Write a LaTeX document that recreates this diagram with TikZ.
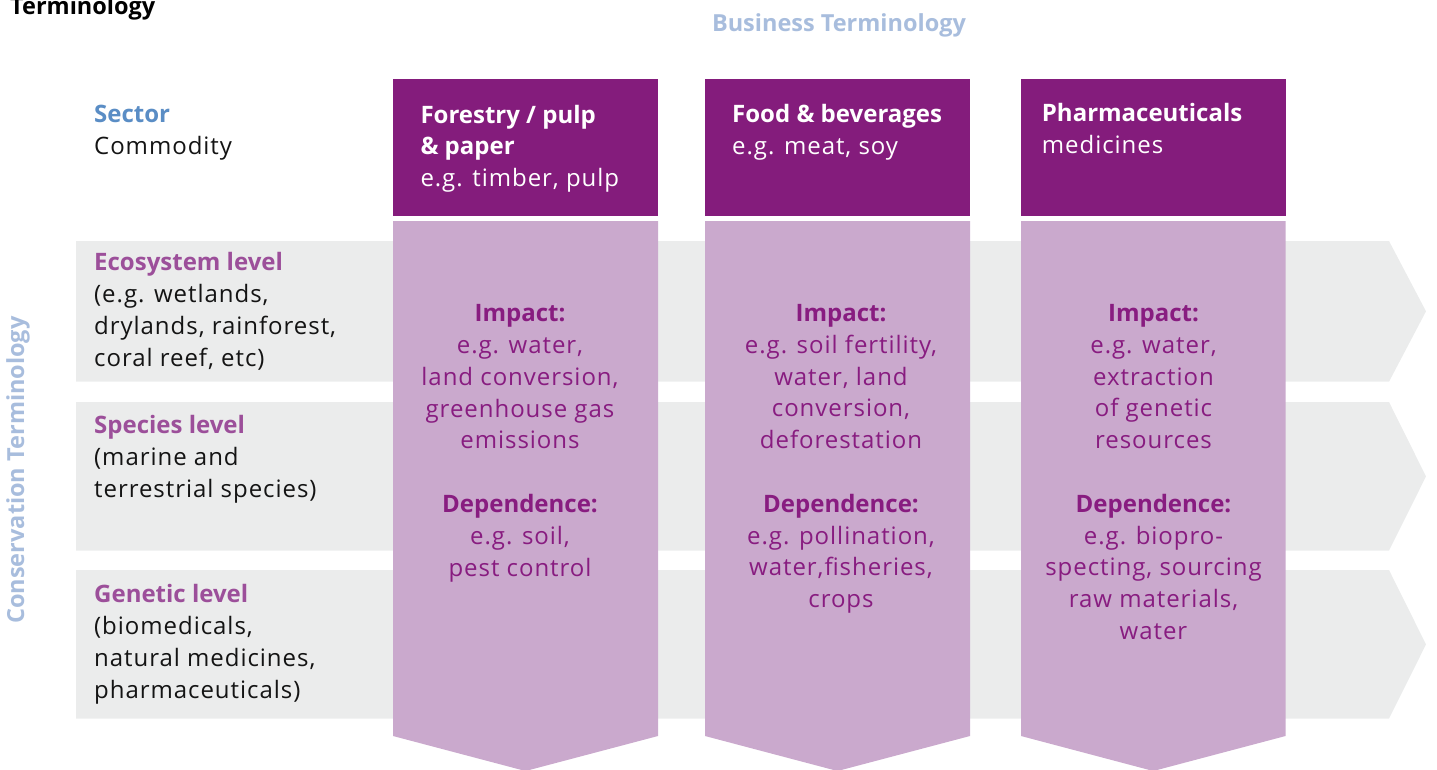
\documentclass[tikz,border=0pt]{standalone}
\usepackage{fontspec}
\setmainfont{Open Sans}[UprightFeatures={LetterSpace=4.0},BoldFeatures={LetterSpace=0}]
\definecolor{hdr}{RGB}{132,28,124}
\definecolor{colbg}{RGB}{202,169,205}
\definecolor{bandc}{RGB}{235,236,236}
\definecolor{bodytxt}{RGB}{136,28,128}
\definecolor{lvl}{RGB}{156,79,154}
\definecolor{sector}{RGB}{90,141,197}
\definecolor{ttl}{RGB}{168,189,221}
\definecolor{ink}{RGB}{20,20,20}
\tikzset{
  band/.style={fill=bandc, draw=none},
  colbody/.style={fill=colbg, draw=none},
  colhead/.style={fill=hdr, draw=none},
  bodyfont/.style={font=\fontsize{24}{31.8}\selectfont},
  lefttext/.style={bodyfont, align=left, anchor=base west, inner sep=0pt, text=ink},
  headtext/.style={bodyfont, align=left, anchor=base west, inner sep=0pt, text=white},
  coltext/.style={bodyfont, align=center, anchor=base, inner sep=0pt, text=bodytxt},
  titletext/.style={font=\fontsize{23.5}{28}\selectfont\bfseries, inner sep=0pt, anchor=base, text=ttl}
}
\begin{document}
\begin{tikzpicture}[x=1pt,y=-1pt]
\useasboundingbox (0,0) rectangle (1437,769);
% grey bands
\path[band] (76,241) -- (1389,241) -- (1426,311.3) -- (1389,381.7) -- (76,381.7) -- cycle;
\path[band] (76,402) -- (1389,402) -- (1426,476.4) -- (1389,550.7) -- (76,550.7) -- cycle;
\path[band] (76,570) -- (1389,570) -- (1426,644.4) -- (1389,718.7) -- (76,718.7) -- cycle;
% columns
\foreach \l/\r in {393/658, 705/970, 1021/1285.5}{
  \path[colbody] (\l,221) -- (\r,221) -- (\r,736) -- ({(\l+\r)/2},771) -- (\l,736) -- cycle;
  \path[colhead] (\l,79) rectangle (\r,216);
}
% titles
\node[titletext, text=black, anchor=base west] (tl) at (10,14) {Terminology};
\node[titletext] (bt) at (839,31) {Business Terminology};
\node[titletext, rotate=90] (ct) at (24,470) {Conservation Terminology};
% left labels (anchor = baseline of last line)
\node[lefttext] (sec) at (94,154.5) {\textcolor{sector}{\bfseries Sector}\\Commodity};
\node[lefttext] (eco) at (94,366) {\textcolor{lvl}{\bfseries Ecosystem level}\\(e.g. wetlands,\\drylands, rainforest,\\coral reef, etc)};
\node[lefttext] (spe) at (94,497) {\textcolor{lvl}{\bfseries Species level}\\(marine and\\terrestrial species)};
\node[lefttext] (gen) at (94,698) {\textcolor{lvl}{\bfseries Genetic level}\\(biomedicals,\\natural medicines,\\pharmaceuticals)};
% headers
\node[headtext] (h1) at (420.3,186.7) {\bfseries Forestry / pulp\\\bfseries \& paper\\e.g. timber, pulp};
\node[headtext] (h2) at (732,154) {\bfseries Food \& beverages\\e.g. meat, soy};
\node[headtext] (h3) at (1041.7,153.3) {\bfseries Pharmaceuticals\\medicines};
% column bodies
\node[coltext] (b1) at (520,576) {\bfseries Impact:\\e.g. water,\\land conversion,\\greenhouse gas\\emissions\\[31.8pt]\bfseries Dependence:\\e.g. soil,\\pest control};
\node[coltext] (b2) at (841,607.7) {\bfseries Impact:\\e.g. soil fertility,\\water, land\\conversion,\\deforestation\\[31.8pt]\bfseries Dependence:\\e.g. pollination,\\water,fisheries,\\crops};
\node[coltext] (b3) at (1153.5,639.5) {\bfseries Impact:\\e.g. water,\\extraction\\of genetic\\resources\\[31.8pt]\bfseries Dependence:\\e.g. biopro-\\specting, sourcing\\raw materials,\\water};
\end{tikzpicture}
\end{document}
